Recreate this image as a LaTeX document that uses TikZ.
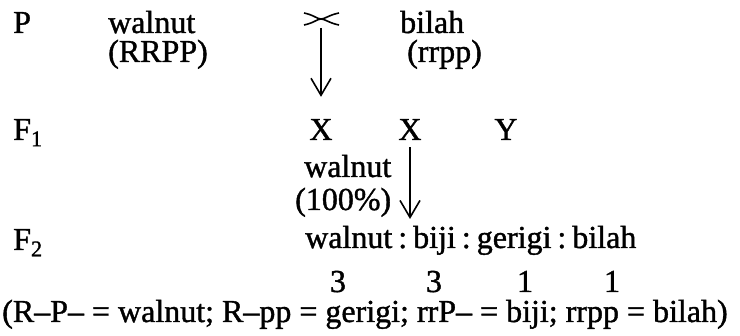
\documentclass[tikz,border=0pt]{standalone}
\usepackage{fontspec}
\setmainfont{Liberation Serif}
\newfontfamily\genfam{Liberation Serif}[Ligatures=TeX, FakeBold=1.2]
\usetikzlibrary{arrows.meta}
\newcommand{\gentext}{\genfam\fontsize{32}{36}\selectfont}
\newcommand{\rsep}{\hspace{6pt}:\hspace{6pt}}
\tikzset{
  x=1pt, y=-1pt,
  txt/.style={font=\gentext, inner sep=0pt, anchor=base west},
  ctxt/.style={font=\gentext, inner sep=0pt, anchor=base},
  link/.style={-{Straight Barb[length=17pt, width=20pt]}, line width=1.6pt},
  crossmark/.style={line width=1.6pt},
}
\begin{document}
\begin{tikzpicture}
  \useasboundingbox (0,0) rectangle (740,336);
  % parents
  \node[txt] (gP) at (13,33) {P};
  \node[txt] (pw) at (108,33) {walnut};
  \node[txt] (pwg) at (108,62) {(RRPP)};
  \node[txt] (pb) at (400,33) {bilah};
  \node[txt] (pbg) at (407,62) {(rrpp)};
  \coordinate (crs) at (321,19);
  \draw[crossmark] (304,13) .. controls (314,15) and (317,19) .. (321,19)
    .. controls (325,19) and (329,23) .. (339,25);
  \draw[crossmark] (304,25) .. controls (314,23) and (317,19) .. (321,19)
    .. controls (325,19) and (329,15) .. (339,13);
  % F1
  \node[txt] (gF1) at (13,140) {F\textsubscript{1}};
  \node[ctxt] (x1) at (321,140) {X};
  \node[ctxt] (x2) at (410,140) {X};
  \node[ctxt] (y1) at (506,140) {Y};
  \node[txt] (fw) at (304,177) {walnut};
  \node[txt] (fwp) at (295,210) {(100\%)};
  \draw[link, shorten <=9pt, shorten >=22pt] (crs) -- (x1);
  % F2
  \coordinate (f2top) at (410,219);
  \draw[link, shorten <=7pt] (x2) -- (f2top);
  \node[txt] (gF2) at (13,250) {F\textsubscript{2}};
  \node[txt] (ratio) at (305,248) {walnut\rsep biji\rsep gerigi\rsep bilah};
  \foreach \n/\xx in {3/338,3/434,1/525,1/612}
    \node[ctxt] (n\xx) at (\xx,292) {\n};
  \node[txt] (key) at (2,322) {(R--P-- = walnut; R--pp = gerigi; rrP-- = biji; rrpp = bilah)};
\end{tikzpicture}
\end{document}
